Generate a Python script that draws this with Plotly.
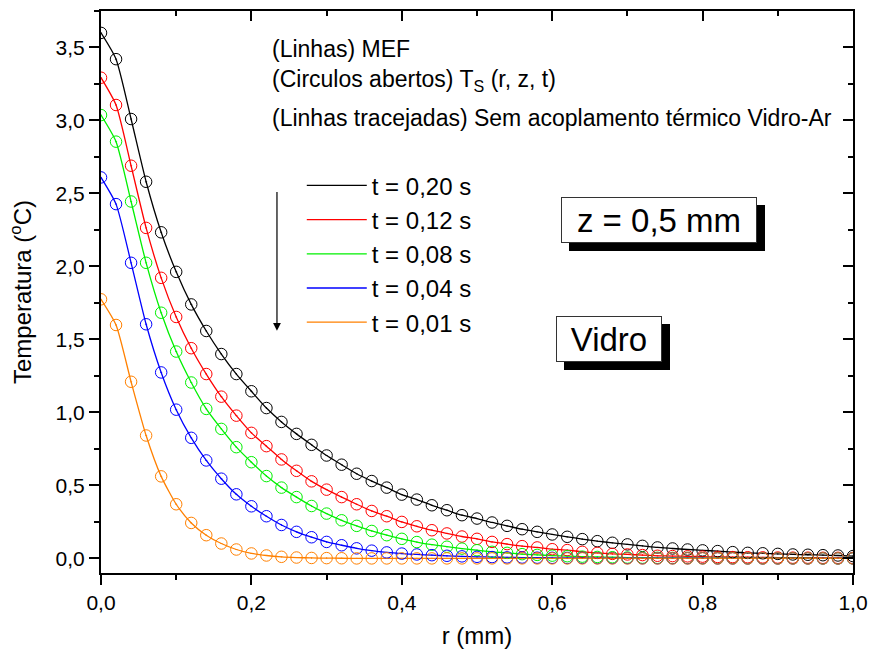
import plotly.graph_objects as go

# radial position (mm)
r_mm = [0.00, 0.02, 0.04, 0.06, 0.08, 0.10, 0.12, 0.14, 0.16, 0.18,
        0.20, 0.22, 0.24, 0.26, 0.28, 0.30, 0.32, 0.34, 0.36, 0.38,
        0.40, 0.42, 0.44, 0.46, 0.48, 0.50, 0.52, 0.54, 0.56, 0.58,
        0.60, 0.62, 0.64, 0.66, 0.68, 0.70, 0.72, 0.74, 0.76, 0.78,
        0.80, 0.82, 0.84, 0.86, 0.88, 0.90, 0.92, 0.94, 0.96, 0.98, 1.00]

# temperature rise (degC) at z = 0.5 mm for each time
temp_t020 = [3.600, 3.420, 3.010, 2.580, 2.234, 1.963, 1.740, 1.558, 1.400, 1.263,
             1.145, 1.030, 0.935, 0.853, 0.778, 0.705, 0.642, 0.580, 0.530, 0.485,
             0.437, 0.403, 0.364, 0.330, 0.296, 0.273, 0.246, 0.223, 0.200, 0.182,
             0.164, 0.148, 0.132, 0.118, 0.107, 0.096, 0.086, 0.075, 0.068, 0.061,
             0.055, 0.050, 0.043, 0.038, 0.035, 0.031, 0.027, 0.025, 0.022, 0.020, 0.016]
temp_t012 = [3.293, 3.106, 2.690, 2.264, 1.922, 1.654, 1.440, 1.263, 1.108, 0.978,
             0.860, 0.769, 0.678, 0.600, 0.528, 0.471, 0.420, 0.371, 0.325, 0.289,
             0.250, 0.220, 0.193, 0.171, 0.150, 0.134, 0.113, 0.098, 0.084, 0.075,
             0.063, 0.057, 0.045, 0.038, 0.031, 0.027, 0.023, 0.018, 0.016, 0.014,
             0.012, 0.010, 0.009, 0.008, 0.007, 0.006, 0.005, 0.005, 0.004, 0.004, 0.003]
temp_t008 = [3.037, 2.855, 2.445, 2.025, 1.683, 1.417, 1.205, 1.024, 0.887, 0.762,
             0.659, 0.564, 0.485, 0.420, 0.359, 0.307, 0.261, 0.223, 0.188, 0.159,
             0.134, 0.112, 0.094, 0.080, 0.067, 0.056, 0.045, 0.038, 0.029, 0.024,
             0.019, 0.015, 0.012, 0.010, 0.008, 0.006, 0.005, 0.004, 0.003, 0.003,
             0.002, 0.002, 0.002, 0.001, 0.001, 0.001, 0.001, 0.001, 0.000, 0.000, 0.000]
temp_t004 = [2.610, 2.427, 2.025, 1.604, 1.274, 1.019, 0.826, 0.671, 0.546, 0.439,
             0.357, 0.289, 0.229, 0.182, 0.145, 0.113, 0.090, 0.069, 0.053, 0.041,
             0.033, 0.027, 0.022, 0.018, 0.014, 0.011, 0.009, 0.007, 0.006, 0.005,
             0.004, 0.003, 0.003, 0.002, 0.002, 0.002, 0.001, 0.001, 0.001, 0.001,
             0.001, 0.000, 0.000, 0.000, 0.000, 0.000, 0.000, 0.000, 0.000, 0.000, 0.000]
temp_t001 = [1.775, 1.599, 1.210, 0.842, 0.562, 0.371, 0.243, 0.159, 0.102, 0.061,
             0.034, 0.020, 0.011, 0.006, 0.003, 0.002, 0.001, 0.000, 0.000, 0.000,
             0.000, 0.000, 0.000, 0.000, 0.000, 0.000, 0.000, 0.000, 0.000, 0.000,
             0.000, 0.000, 0.000, 0.000, 0.000, 0.000, 0.000, 0.000, 0.000, 0.000,
             0.000, 0.000, 0.000, 0.000, 0.000, 0.000, 0.000, 0.000, 0.000, 0.000, 0.000]

series_names = ["t = 0,20 s", "t = 0,12 s", "t = 0,08 s", "t = 0,04 s", "t = 0,01 s"]
series_values = [temp_t020, temp_t012, temp_t008, temp_t004, temp_t001]
series_colors = ["#000000", "#FF0000", "#00F000", "#0000FF", "#FF8000"]

FONT = "Liberation Sans, Arial, sans-serif"

fig = go.Figure()

# MEF curves (solid lines) - these carry the legend
for name, vals, col in zip(series_names, series_values, series_colors):
    fig.add_trace(go.Scatter(
        x=r_mm, y=vals, mode="lines", name=name,
        line=dict(color=col, width=1.3, shape="spline", smoothing=0.6),
    ))

# analytical T_S(r, z, t): open circles with a centre dot
for name, vals, col in zip(series_names, series_values, series_colors):
    fig.add_trace(go.Scatter(
        x=r_mm, y=vals, mode="markers", showlegend=False,
        marker=dict(symbol="circle-open-dot", size=11.5, color=col,
                    line=dict(width=1.0, color=col)),
        hoverinfo="skip",
    ))

# empty trace so the mirrored top/right axes are drawn
fig.add_trace(go.Scatter(x=[None], y=[None], xaxis="x2", yaxis="y2",
                         showlegend=False, hoverinfo="skip"))

tick_font = dict(family=FONT, size=21, color="#000000")
axis_common = dict(showgrid=False, zeroline=False, tickcolor="#000000",
                   ticklen=10, tickwidth=2)

fig.update_layout(
    width=877, height=659,
    margin=dict(l=101, r=18, t=9, b=86),
    paper_bgcolor="white", plot_bgcolor="white",
    separators=",.",
    font=dict(family=FONT, color="#000000"),
    xaxis=dict(
        range=[0, 1.0], dtick=0.2, tick0=0, tickformat=".1f",
        showline=True, linecolor="#000000", linewidth=2, mirror=True,
        ticks="outside",
        minor=dict(dtick=0.1, ticks="outside", ticklen=5, tickwidth=2, tickcolor="#000000"),
        tickfont=tick_font,
        title=dict(text="r (mm)", font=dict(family=FONT, size=24), standoff=14),
        **axis_common,
    ),
    yaxis=dict(
        range=[-0.1, 3.75], dtick=0.5, tick0=0, tickformat=".1f",
        showline=True, linecolor="#000000", linewidth=2, mirror=True,
        ticks="outside",
        minor=dict(dtick=0.25, ticks="outside", ticklen=5, tickwidth=2, tickcolor="#000000"),
        tickfont=tick_font,
        title=dict(text="Temperatura (<sup>o</sup>C)", font=dict(family=FONT, size=24), standoff=17),
        **axis_common,
    ),
    xaxis2=dict(
        overlaying="x", side="top", range=[0, 1.0], dtick=0.2, tick0=0,
        showline=False, showticklabels=False, ticks="inside",
        minor=dict(dtick=0.1, ticks="inside", ticklen=5, tickwidth=2, tickcolor="#000000"),
        **axis_common,
    ),
    yaxis2=dict(
        overlaying="y", side="right", range=[-0.1, 3.75], dtick=0.5, tick0=0,
        showline=False, showticklabels=False, ticks="inside",
        minor=dict(dtick=0.25, ticks="inside", ticklen=5, tickwidth=2, tickcolor="#000000"),
        **axis_common,
    ),
    legend=dict(
        x=0.267, y=0.729, xanchor="left", yanchor="top",
        bgcolor="rgba(0,0,0,0)", borderwidth=0,
        font=dict(family=FONT, size=24, color="#000000"),
        itemwidth=60, traceorder="normal",
    ),
    showlegend=True,
)

notes = [
    ("(Linhas) MEF", 3.490),
    ("(Circulos abertos) T<sub>S</sub> (r, z, t)", 3.272),
    ("(Linhas tracejadas) Sem acoplamento térmico Vidro-Ar", 3.019),
]
for txt, yv in notes:
    fig.add_annotation(x=0.225, y=yv, xref="x", yref="y", text=txt, showarrow=False,
                       xanchor="left", yanchor="middle",
                       font=dict(family=FONT, size=23, color="#000000"))

# downward arrow beside the legend
fig.add_annotation(x=0.234, y=1.56, ax=0.234, ay=2.52, xref="x", yref="y",
                   axref="x", ayref="y", text="", showarrow=True,
                   arrowhead=2, arrowsize=1.3, arrowwidth=1.2, arrowcolor="#000000")

# labelled boxes with drop shadow
for txt, xv, yv, w in [("z = 0,5 mm", 0.7414, 2.316, 194), ("Vidro", 0.676, 1.500, 104)]:
    fig.add_annotation(x=xv, y=yv, xref="x", yref="y", text=txt, showarrow=False,
                       xshift=8, yshift=-8, width=w, height=44,
                       bgcolor="#000000", bordercolor="#000000",
                       borderwidth=1, borderpad=0,
                       font=dict(family=FONT, size=33, color="#000000"))
    fig.add_annotation(x=xv, y=yv, xref="x", yref="y", text=txt, showarrow=False,
                       width=w, height=44,
                       bgcolor="#FFFFFF", bordercolor="#333333",
                       borderwidth=1, borderpad=0,
                       font=dict(family=FONT, size=33, color="#000000"))

fig.write_html("out.html")
